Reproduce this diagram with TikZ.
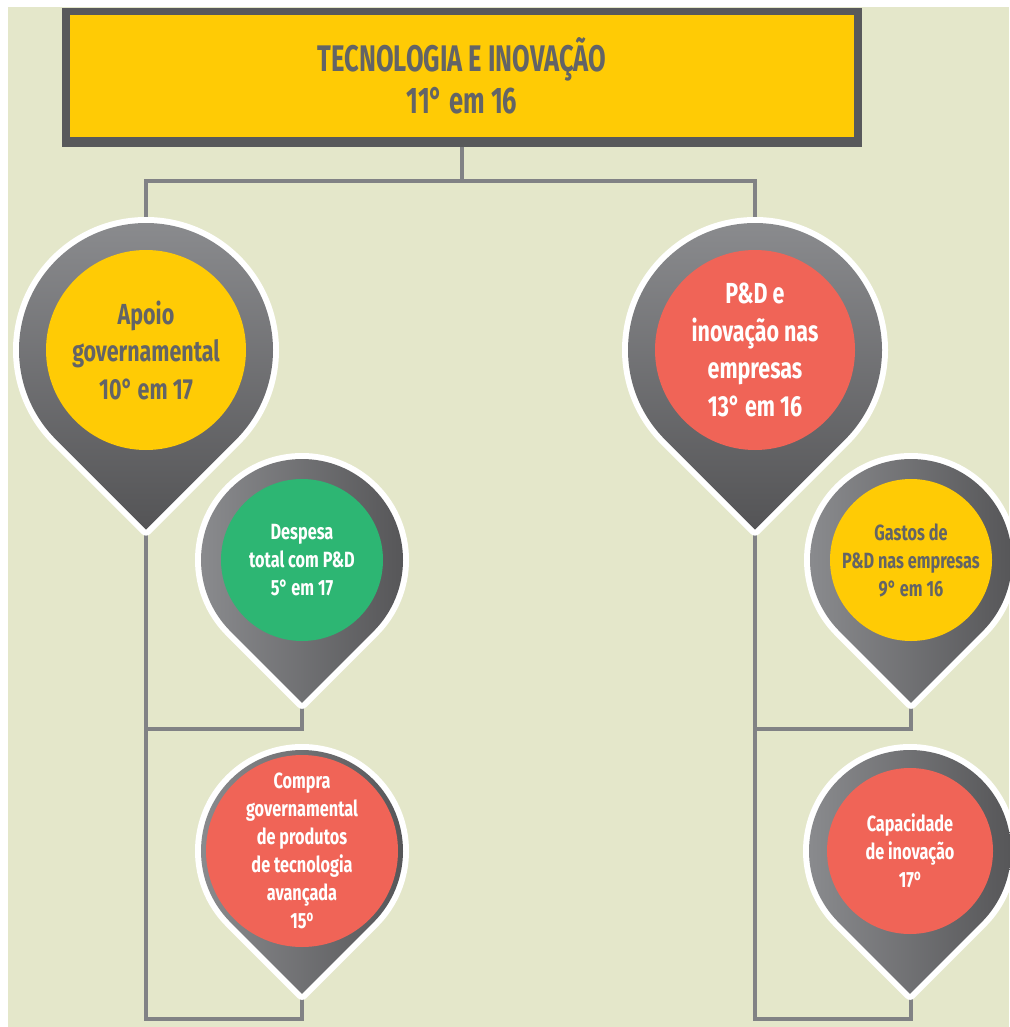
\documentclass[tikz,border=0pt]{standalone}
\usepackage{fontspec}
\setmainfont{Fira Sans}[FakeStretch=0.74]
\newfontfamily\titlefont{Fira Sans}[FakeStretch=0.69]
\definecolor{bgc}{HTML}{E4E7CA}
\definecolor{yel}{HTML}{FFCB05}
\definecolor{redc}{HTML}{F06457}
\definecolor{grn}{HTML}{2DB673}
\definecolor{boxgray}{HTML}{58595B}
\definecolor{linec}{HTML}{818285}
\definecolor{ringlight}{HTML}{8C8D90}
\definecolor{ringdark}{HTML}{545456}
\definecolor{txtgray}{HTML}{636466}
\pgfdeclarelayer{back}
\pgfsetlayers{back,main}
\tikzset{
  conn/.style={draw=linec, line width=3.5pt},
  bigring/.style={top color=ringlight, bottom color=ringdark},
  smallring/.style={left color=ringlight, right color=ringdark},
  bigtext/.style={font=\fontsize{29}{37.5}\selectfont\bfseries},
  smalltext/.style={font=\fontsize{22}{28}\selectfont\bfseries},
}
\newcommand{\ordo}{\textsuperscript{o}}
\newcommand{\mypin}[9]{%
  \path[draw=white, line width=12pt, line join=round]
    (#2,#3) ++(45:#4) arc[start angle=45, end angle=-225, radius=#4]
    -- (#2,{#3+1.41421*#4}) -- cycle;
  \shade[#8ring]
    (#2,#3) ++(45:#4) arc[start angle=45, end angle=-225, radius=#4]
    -- (#2,{#3+1.41421*#4}) -- cycle;
  \node[circle, fill=#6, minimum size={2*#5}, inner sep=0pt, text=#7,
        align=center, #8text] (#1) at (#2,#3) {#9};
}
\begin{document}
\begin{tikzpicture}[x=1pt, y=-1pt]
\useasboundingbox (0,0) rectangle (1009,1027);
% coordinates
\coordinate (apoio-top) at (146,217);
\coordinate (apoio-tip) at (146,533);
\coordinate (pd-top) at (755,217);
\coordinate (pd-tip) at (755,533);
\coordinate (despesa-tip) at (302,706);
\coordinate (gastos-tip) at (911,706);
\coordinate (compra-tip) at (302,997);
\coordinate (capac-tip) at (911,997);
\coordinate (despesa-base) at (302,729);
\coordinate (gastos-base) at (911,729);
\coordinate (compra-base) at (302,1019);
\coordinate (capac-base) at (911,1019);
\begin{pgfonlayer}{back}
  \fill[white] (0,0) rectangle (1009,1027);
  \fill[bgc] (8,7) rectangle (1009,1027);
  \node[fill=boxgray, minimum width=800pt, minimum height=139pt, inner sep=0pt] (topbox) at (462,77.5) {};
  \draw[conn] (topbox.south) -- ++(0,34) coordinate (split);
  \draw[conn] (split) -| (apoio-top);
  \draw[conn] (split) -| (pd-top);
  \draw[conn] (apoio-tip) |- (compra-base) -- (compra-tip);
  \draw[conn] (despesa-tip) -- (despesa-base) -- (despesa-base -| apoio-tip);
  \draw[conn] (pd-tip) |- (capac-base) -- (capac-tip);
  \draw[conn] (gastos-tip) -- (gastos-base) -- (gastos-base -| pd-tip);
\end{pgfonlayer}
\node[fill=yel, minimum width=784pt, minimum height=122pt, inner sep=0pt,
      text=txtgray, align=center, font=\titlefont\fontsize{37}{42}\selectfont\bfseries] (title) at (462,76)
  {TECNOLOGIA E INOVAÇÃO\\11°\,em 16};
\mypin{apoio}{146}{350}{127}{100}{yel}{txtgray}{big}{Apoio\\governamental\\10°\,em 17}
\mypin{despesa}{302}{560}{101}{81}{grn}{white}{small}{Despesa\\total com P\&D\\5°\,em 17}
\mypin{compra}{302}{851}{101}{83}{redc}{white}{small}{Compra\\governamental\\de produtos\\de tecnologia\\avançada\\15\ordo}
\mypin{pd}{755}{350}{127}{100}{redc}{white}{big}{P\&D e\\inovação nas\\empresas\\13°\,em 16}
\mypin{gastos}{911}{560}{101}{81}{yel}{txtgray}{small}{Gastos de\\P\&D nas empresas\\9°\,em 16}
\mypin{capac}{910}{851}{101}{83}{redc}{white}{small}{Capacidade\\de inovação\\17\ordo}
\end{tikzpicture}
\end{document}
